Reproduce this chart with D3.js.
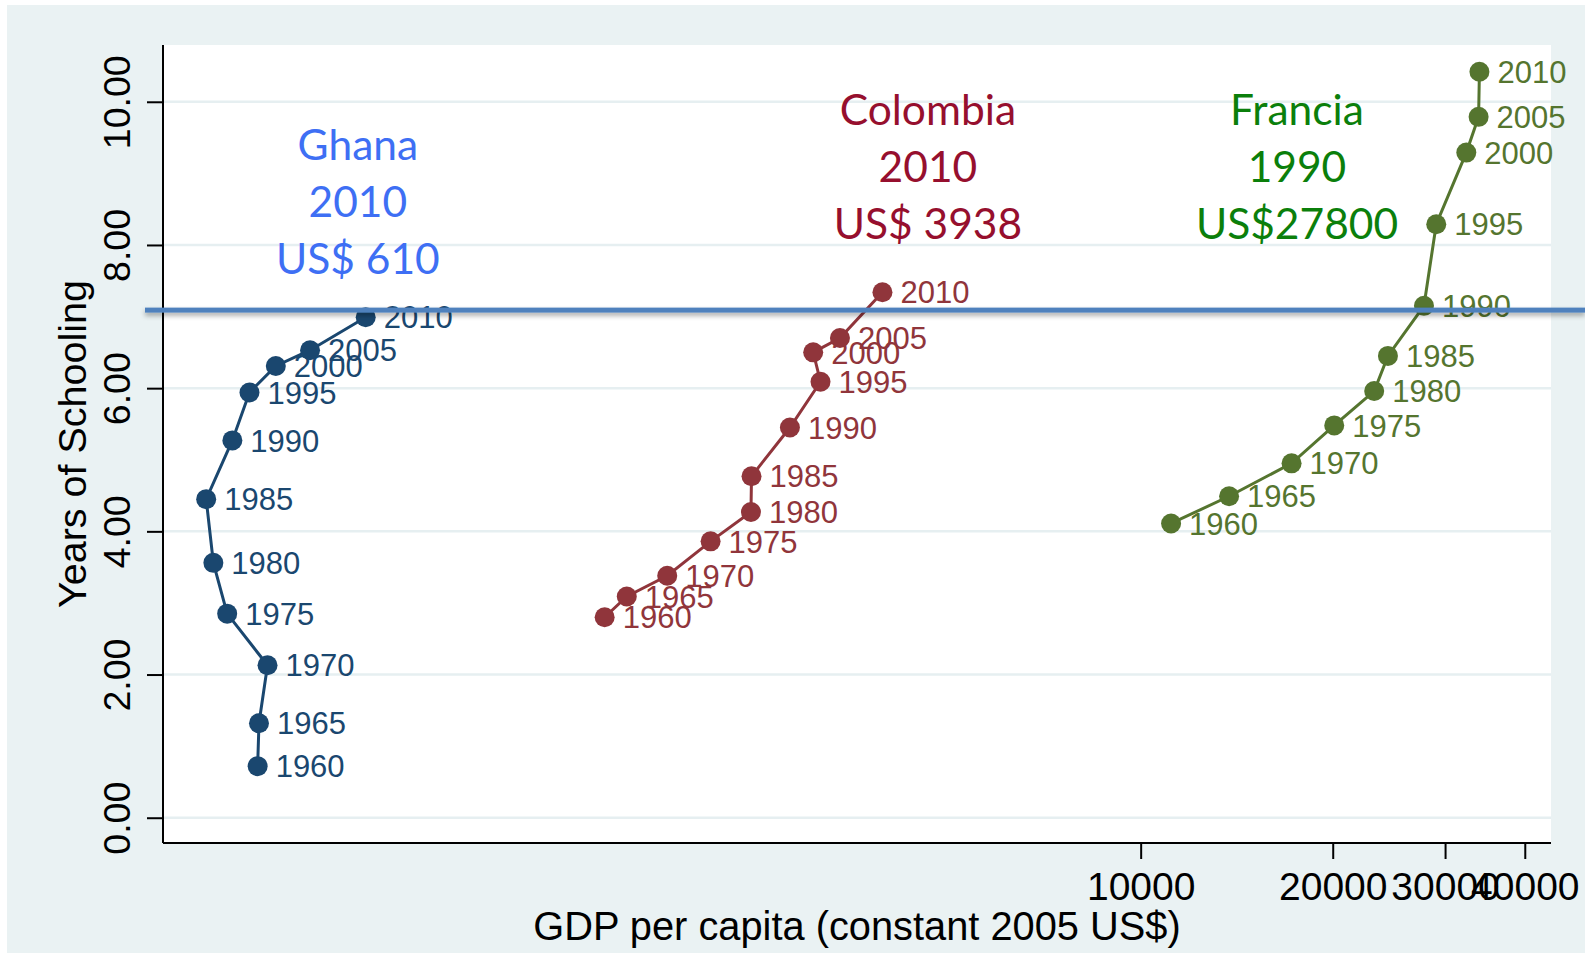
<!DOCTYPE html>
<html>
<head>
<meta charset="utf-8">
<script src="https://cdn.jsdelivr.net/npm/d3@7"></script>
<style>
  body { margin: 0; background: #fff; }
  svg { display: block; }
  .tick text { font-family: "Liberation Sans", Arial, sans-serif; }
</style>
</head>
<body>
<div class="chart"></div>
<script>
// data
var years = [1960, 1965, 1970, 1975, 1980, 1985, 1990, 1995, 2000, 2005, 2010];

var ghanaGdp = [413, 415, 428, 370, 352, 343, 377, 401, 441, 499, 610];
var ghanaSchool = [0.72, 1.32, 2.13, 2.85, 3.56, 4.45, 5.27, 5.94, 6.31, 6.53, 6.99];

var colombiaGdp = [1445, 1565, 1811, 2118, 2450, 2455, 2820, 3149, 3067, 3378, 3938];
var colombiaSchool = [2.80, 3.09, 3.38, 3.86, 4.27, 4.77, 5.45, 6.09, 6.50, 6.70, 7.34];

var franciaGdp = [11160, 13760, 17240, 20110, 23230, 24410, 27800, 29060, 32390, 33860, 33960];
var franciaSchool = [4.11, 4.49, 4.95, 5.48, 5.96, 6.45, 7.15, 8.29, 9.29, 9.79, 10.42];

var seriesNames = ['Ghana', 'Colombia', 'Francia'];
var seriesColors = ['#1a476f', '#90353b', '#55752f'];

var yTicks = [0, 2, 4, 6, 8, 10];
var xTicks = [10000, 20000, 30000, 40000];

// annotation text blocks (anchor in data units)
var noteLines = [['Ghana', '2010', 'US$ 610'], ['Colombia', '2010', 'US$ 3938'], ['Francia', '1990', 'US$27800']];
var noteGdp = [593, 4640, 17580];
var noteSchool = [9.19, 9.67, 9.67];
var noteColors = ['#3e6ff4', '#960f2e', '#0b7f0b'];

var refLevel = 7.09;

// layout
var W = 1585, H = 953;
var plot = {left: 163, right: 1551, top: 45, bottom: 843};

var svg = d3.select('.chart').append('svg')
  .attr('width', W)
  .attr('height', H);

// outer background
svg.append('rect')
  .attr('x', 7).attr('y', 5)
  .attr('width', W - 7).attr('height', H - 5)
  .attr('fill', '#eaf2f3');

svg.append('rect')
  .attr('x', plot.left).attr('y', plot.top)
  .attr('width', plot.right - plot.left).attr('height', plot.bottom - plot.top)
  .attr('fill', '#fff');

var xScale = d3.scaleLog()
  .domain([293.5, 43970])
  .range([plot.left, plot.right]);

var yScale = d3.scaleLinear()
  .domain([-0.353, 10.793])
  .range([plot.bottom, plot.top]);

// gridlines
svg.append('g')
  .attr('class', 'grid')
  .selectAll('line')
  .data(yTicks)
  .enter().append('line')
  .attr('x1', plot.left)
  .attr('x2', plot.right)
  .attr('y1', function(d){ return yScale(d); })
  .attr('y2', function(d){ return yScale(d); })
  .attr('stroke', '#e6eff1')
  .attr('stroke-width', 2.5);

// axes
var yAxis = svg.append('g')
  .attr('transform', 'translate(' + plot.left + ',0)')
  .call(d3.axisLeft(yScale).tickValues(yTicks).tickFormat(d3.format('.2f')).tickSize(16).tickSizeOuter(0));

yAxis.select('.domain').attr('stroke', '#000').attr('stroke-width', 2)
  .attr('d', 'M0,' + plot.top + 'V' + plot.bottom);
yAxis.selectAll('.tick line').attr('stroke', '#000').attr('stroke-width', 2);
yAxis.selectAll('.tick text')
  .attr('font-size', 37.5)
  .attr('fill', '#000')
  .attr('text-anchor', 'middle')
  .attr('transform', 'rotate(-90)')
  .attr('x', 0)
  .attr('y', -33)
  .attr('dy', 0);

var xAxis = svg.append('g')
  .attr('transform', 'translate(0,' + plot.bottom + ')')
  .call(d3.axisBottom(xScale).tickValues(xTicks).tickFormat(d3.format('d')).tickSize(16).tickSizeOuter(0));

xAxis.select('.domain').attr('stroke', '#000').attr('stroke-width', 2)
  .attr('d', 'M' + plot.left + ',0H' + plot.right);
xAxis.selectAll('.tick line').attr('stroke', '#000').attr('stroke-width', 2);
xAxis.selectAll('.tick text')
  .attr('font-size', 39)
  .attr('fill', '#000')
  .attr('y', 57)
  .attr('dy', 0);

// axis titles
svg.append('text')
  .attr('transform', 'translate(86,' + (plot.top + plot.bottom) / 2 + ') rotate(-90)')
  .attr('text-anchor', 'middle')
  .attr('font-family', '"Liberation Sans", Arial, sans-serif')
  .attr('font-size', 39.5)
  .text('Years of Schooling');

svg.append('text')
  .attr('x', (plot.left + plot.right) / 2)
  .attr('y', 940)
  .attr('text-anchor', 'middle')
  .attr('font-family', '"Liberation Sans", Arial, sans-serif')
  .attr('font-size', 39.8)
  .text('GDP per capita (constant 2005 US$)');

// build series from the arrays
var allGdp = [ghanaGdp, colombiaGdp, franciaGdp];
var allSchool = [ghanaSchool, colombiaSchool, franciaSchool];

var series = seriesNames.map(function(name, k){
  return {
    name: name,
    color: seriesColors[k],
    values: years.map(function(yr, i){
      return {year: yr, gdp: allGdp[k][i], school: allSchool[k][i]};
    })
  };
});

var line = d3.line()
  .x(function(d){ return xScale(d.gdp); })
  .y(function(d){ return yScale(d.school); });

var groups = svg.selectAll('.series')
  .data(series)
  .enter().append('g')
  .attr('class', 'series');

groups.append('path')
  .attr('d', function(d){ return line(d.values); })
  .attr('fill', 'none')
  .attr('stroke', function(d){ return d.color; })
  .attr('stroke-width', 3);

groups.each(function(s){
  var g = d3.select(this);

  g.selectAll('circle')
    .data(s.values)
    .enter().append('circle')
    .attr('cx', function(d){ return xScale(d.gdp); })
    .attr('cy', function(d){ return yScale(d.school); })
    .attr('r', 10)
    .attr('fill', s.color);

  g.selectAll('text')
    .data(s.values)
    .enter().append('text')
    .attr('x', function(d){ return xScale(d.gdp) + 18; })
    .attr('y', function(d){ return yScale(d.school); })
    .attr('dy', '0.36em')
    .attr('font-family', '"Liberation Sans", Arial, sans-serif')
    .attr('font-size', 31)
    .attr('fill', s.color)
    .text(function(d){ return d.year; });
});

// annotation text blocks
noteLines.forEach(function(lines, k){
  var t = svg.append('text')
    .attr('text-anchor', 'middle')
    .attr('font-family', 'Lato, "Open Sans", sans-serif')
    .attr('font-size', 42.5)
    .attr('fill', noteColors[k]);
  lines.forEach(function(str, j){
    t.append('tspan')
      .attr('x', xScale(noteGdp[k]))
      .attr('y', yScale(noteSchool[k]) + j * 57)
      .text(str);
  });
});

// horizontal reference line with soft shadow
var defs = svg.append('defs');
var f = defs.append('filter').attr('id', 'shadow')
  .attr('filterUnits', 'userSpaceOnUse')
  .attr('x', 0).attr('y', 0).attr('width', W).attr('height', H);
f.append('feDropShadow')
  .attr('dx', 0).attr('dy', 3)
  .attr('stdDeviation', 2.5)
  .attr('flood-color', '#000')
  .attr('flood-opacity', 0.35);

svg.append('rect')
  .attr('x', 145)
  .attr('y', yScale(refLevel) - 2.5)
  .attr('width', W - 145)
  .attr('height', 5)
  .attr('fill', '#4f81bd')
  .attr('filter', 'url(#shadow)');
</script>
</body>
</html>
